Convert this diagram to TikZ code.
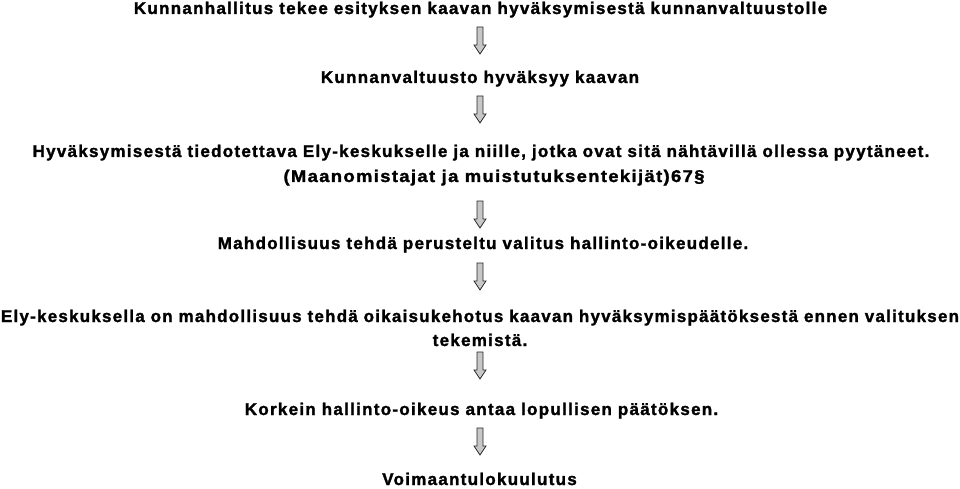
\documentclass[tikz,border=0pt]{standalone}
\usepackage{fontspec}
\usepackage{graphicx}
\setmainfont{Liberation Sans}
\newfontfamily\spacedbold{Liberation Sans}[LetterSpace=7.5, BoldFeatures={FakeBold=1.6}]
\tikzset{
  x=1pt,y=1pt,
  line/.style={anchor=base,inner sep=0pt,font=\spacedbold\bfseries\fontsize{17}{19}\selectfont},
  downarrow/.pic={
    \draw[draw=black!85,line width=0.8pt,fill=black!22,line join=miter]
      (-3,0) -- (3,0) -- (3,-18) -- (6,-18) -- (0,-27) -- (-6,-18) -- (-3,-18) -- cycle;
  }
}
\begin{document}
\begin{tikzpicture}
\useasboundingbox (0,0) rectangle (960,488);
\node[line] (t1) at (480.5,474) {Kunnanhallitus tekee esityksen kaavan hyväksymisestä kunnanvaltuustolle};
\pic (a1) at (480,461) {downarrow};
\node[line] (t2) at (480,405) {Kunnanvaltuusto hyväksyy kaavan};
\pic (a2) at (480,392) {downarrow};
\node[line] (t3) at (481,331) {Hyväksymisestä tiedotettava Ely-keskukselle ja niille, jotka ovat sitä nähtävillä ollessa pyytäneet.};
\node[line] (t4) at (494,306) {\resizebox{421pt}{\height}{(Maanomistajat ja muistutuksentekijät)67§}};
\pic (a3) at (480,287) {downarrow};
\node[line] (t5) at (483,239) {Mahdollisuus tehdä perusteltu valitus hallinto-oikeudelle.};
\pic (a4) at (480,225) {downarrow};
\node[line] (t6) at (480,166) {\resizebox{958pt}{\height}{Ely-keskuksella on mahdollisuus tehdä oikaisukehotus kaavan hyväksymispäätöksestä ennen valituksen}};
\node[line] (t7) at (480,142) {tekemistä.};
\pic (a5) at (480,136) {downarrow};
\node[line] (t8) at (481.5,73) {Korkein hallinto-oikeus antaa lopullisen päätöksen.};
\pic (a6) at (480,60) {downarrow};
\node[line] (t9) at (479.5,3) {Voimaantulokuulutus};
\end{tikzpicture}
\end{document}
